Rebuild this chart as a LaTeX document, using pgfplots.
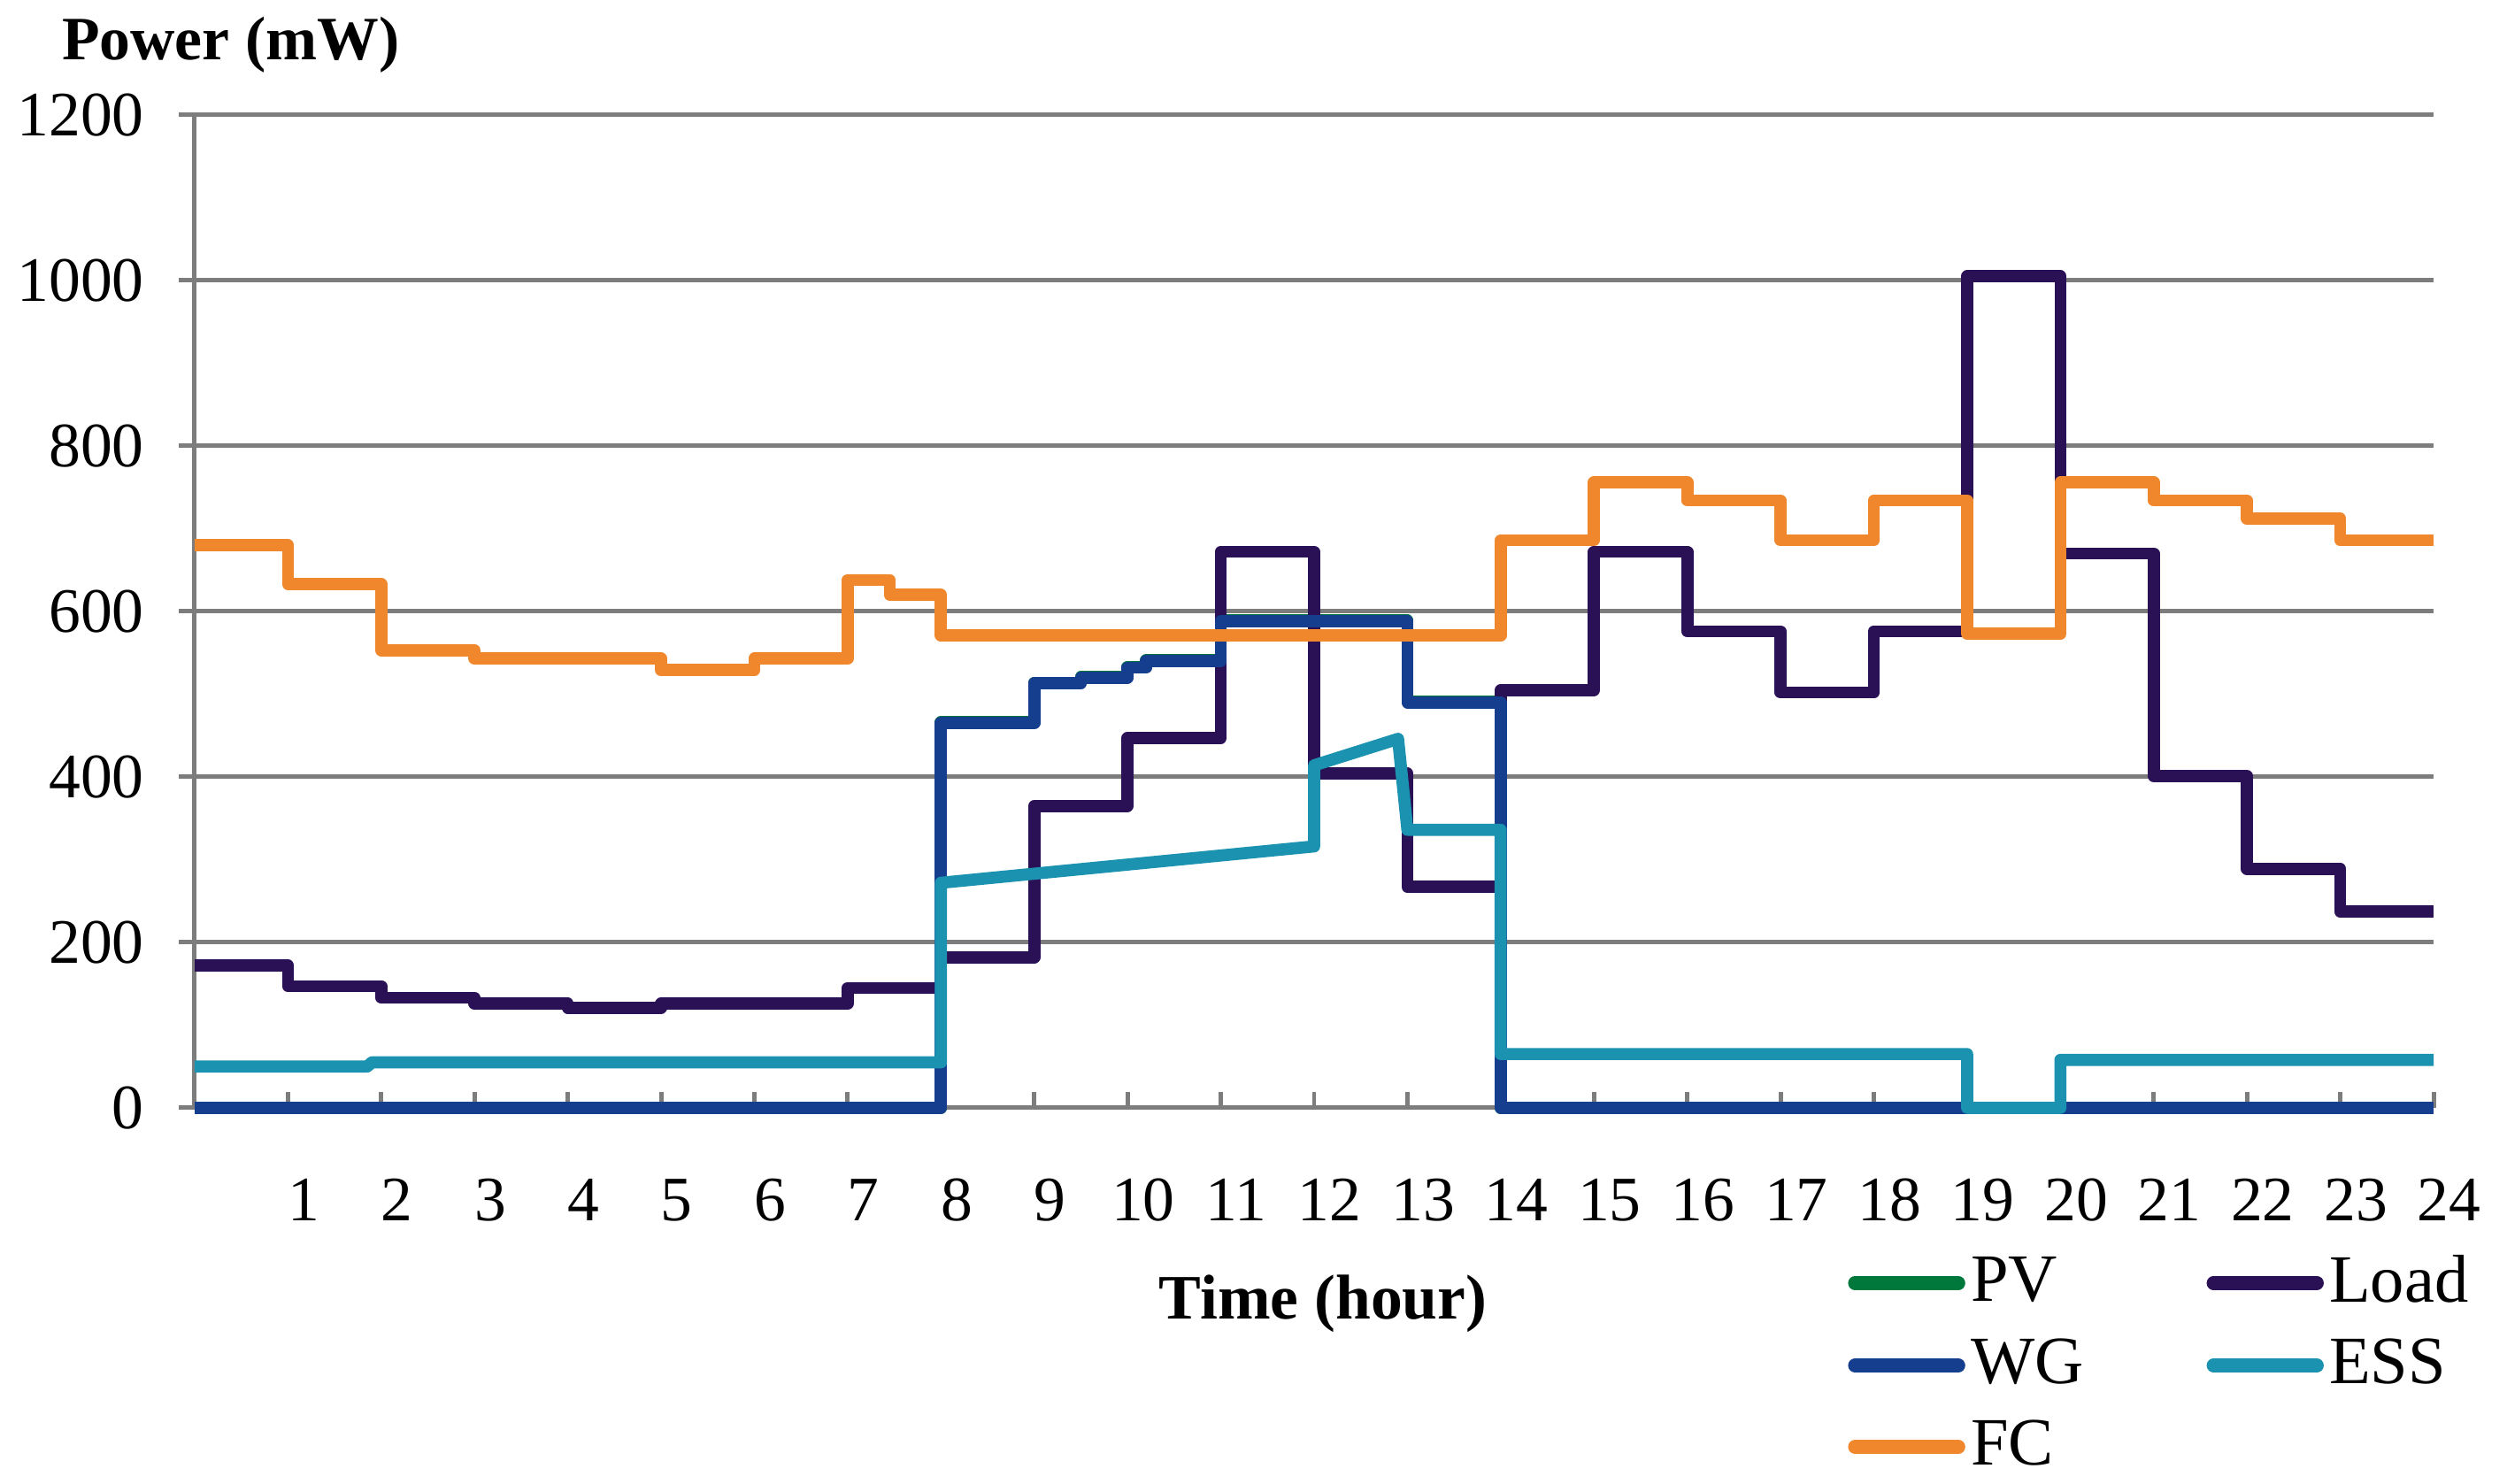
\documentclass[border=0pt]{standalone}
\usepackage{fontspec}
\setmainfont{Liberation Serif}
\usepackage{pgfplots}
\pgfplotsset{compat=1.18}

\definecolor{cPV}{RGB}{0,120,60}
\definecolor{cLoad}{RGB}{42,16,84}
\definecolor{cWG}{RGB}{22,62,142}
\definecolor{cESS}{RGB}{26,146,176}
\definecolor{cFC}{RGB}{240,135,45}
\definecolor{cGrid}{RGB}{125,125,125}

\begin{document}
\begin{tikzpicture}
\begin{axis}[
    scale only axis,
    width=14.29cm, height=6.337cm,
    xmin=0, xmax=24, ymin=0, ymax=1200,
    axis lines*=left,
    axis line style={cGrid, line width=0.8pt},
    xtick={1,...,24},
    ytick={0,200,...,1200},
    ymajorgrids,
    major grid style={cGrid, line width=0.8pt},
    tick align=inside,
    major tick length=0.1cm,
    tick style={cGrid, line width=0.8pt},
    ytick style={xshift=-0.1cm},
    /pgf/number format/assume math mode=true,
    /pgf/number format/1000 sep={},
    ticklabel style={font=\fontsize{11.5}{13}\selectfont, text=black},
    xticklabel style={anchor=north, yshift=-0.33cm, xshift=0.1cm},
    yticklabel style={anchor=east, xshift=-0.2cm},
    every axis x label/.style={at={(axis description cs:0.504,0)}, yshift=-1.248cm,
        anchor=center, font=\fontsize{11.5}{13}\selectfont\bfseries},
    every axis y label/.style={at={(axis description cs:0,1)}, xshift=-0.853cm, yshift=0.446cm,
        anchor=west, inner sep=0pt, font=\fontsize{11.2}{13}\selectfont\bfseries},
    xlabel={Time (hour)},
    ylabel={Power (mW)},
    legend columns=2,
    legend cell align=left,
    legend style={at={(axis description cs:0.738,-0.142)}, anchor=north west,
        draw=none, fill=none, inner sep=0pt,
        font=\fontsize{12.3}{14}\selectfont,
        row sep=0.11cm,
        nodes={inner xsep=1pt, inner ysep=1pt},
        /tikz/every even column/.append style={column sep=0.75cm}},
    legend image code/.code={\draw[#1, line width=2.5pt, line cap=round] (0cm,0cm) -- (0.66cm,0cm);},
    clip=false,
]

% PV (hidden under WG)
\addplot[cPV, line width=2.2pt, line join=round] coordinates {
    (0,0) (8,0) (8,466) (9,466) (9,514) (9.5,514) (9.5,521) (10,521)
    (10,533) (10.2,533) (10.2,541) (11,541) (11,589) (13,589)
    (13,491) (14,491) (14,0) (24,0)
};

% Load
\addplot[cLoad, line width=2.2pt, line join=round] coordinates {
    (0,172) (1,172) (1,147) (2,147) (2,133) (3,133) (3,126) (4,126)
    (4,121) (5,121) (5,126) (7,126) (7,145) (8,145) (8,182) (9,182)
    (9,365) (10,365) (10,447) (11,447) (11,672) (12,672) (12,404) (13,404)
    (13,267) (14,267) (14,505) (15,505) (15,672) (16,672) (16,576) (17,576)
    (17,502) (18,502) (18,576) (19,576) (19,1005) (20,1005) (20,670) (21,670)
    (21,401) (22,401) (22,289) (23,289) (23,237) (24,237)
};

% WG
\addplot[cWG, line width=2.2pt, line join=round] coordinates {
    (0,0) (8,0) (8,465) (9,465) (9,513) (9.5,513) (9.5,520) (10,520)
    (10,532) (10.2,532) (10.2,540) (11,540) (11,588) (13,588)
    (13,490) (14,490) (14,0) (24,0)
};

% ESS
\addplot[cESS, line width=2.2pt, line join=round] coordinates {
    (0,50) (1.85,50) (1.9,55) (8,55) (8,272) (12,316) (12,414) (12.9,446)
    (13,336) (14,336) (14,65) (19,65) (19,0) (20,0) (20,58) (24,58)
};

% FC
\addplot[cFC, line width=2.2pt, line join=round] coordinates {
    (0,680) (1,680) (1,633) (2,633) (2,553) (3,553) (3,543) (5,543)
    (5,529) (6,529) (6,543) (7,543) (7,638) (7.45,638) (7.45,620) (8,620)
    (8,571) (14,571) (14,686) (15,686) (15,756) (16,756) (16,734) (17,734)
    (17,686) (18,686) (18,734) (19,734) (19,573) (20,573) (20,756) (21,756)
    (21,734) (22,734) (22,712) (23,712) (23,686) (24,686)
};

\legend{PV, Load, WG, ESS, FC}

\coordinate (bl) at (rel axis cs:0,0);
\coordinate (tr) at (rel axis cs:1,1);
\end{axis}
\pgfresetboundingbox
\path ([xshift=-1.2425cm,yshift=-2.4cm]bl) rectangle ([xshift=0.469cm,yshift=0.734cm]tr);
\end{tikzpicture}
\end{document}
